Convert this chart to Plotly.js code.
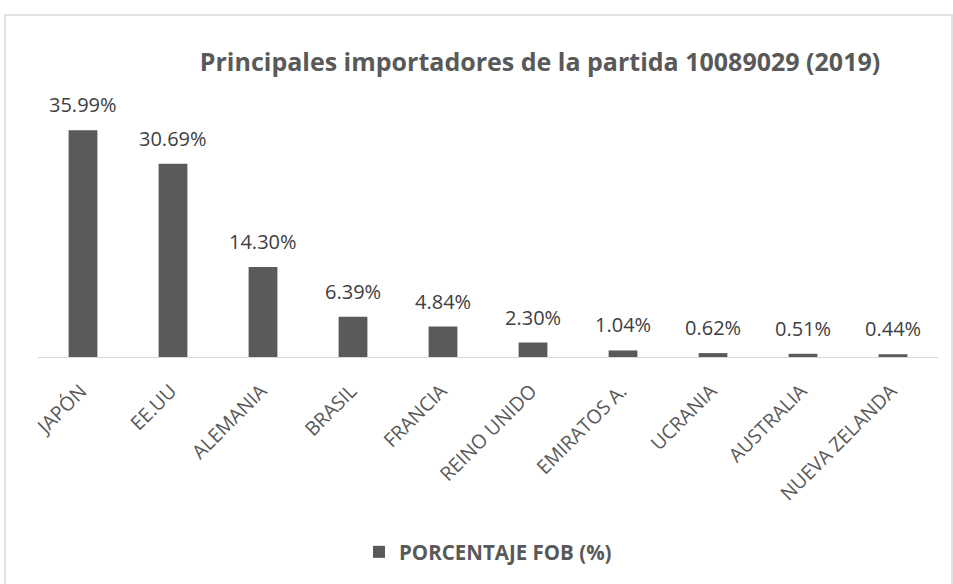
<!DOCTYPE html>
<html><head><meta charset="utf-8">
<script src="https://cdn.plot.ly/plotly-3.0.1.min.js"></script>
<style>html,body{margin:0;padding:0;background:#fff}#c{width:953px;height:584px}</style>
</head><body><div id="c"></div>
<script>
const categories = ["JAPÓN","EE.UU","ALEMANIA","BRASIL","FRANCIA","REINO UNIDO","EMIRATOS A.","UCRANIA","AUSTRALIA","NUEVA ZELANDA"];
const values = [35.99, 30.69, 14.30, 6.39, 4.84, 2.30, 1.04, 0.62, 0.51, 0.44];
const labels = values.map(v => v.toFixed(2) + "%");
const seriesName = "PORCENTAJE FOB (%)";
const titleText = "Principales importadores de la partida 10089029 (2019)";

const L = 38, R = 15, T = 105, B = 227, W = 953, H = 584;
const pw = W - L - R, ph = H - T - B;
const px = x => (x - L) / pw, py = y => (H - B - y) / ph;

const annotations = categories.map((c, i) => ({
  x: c, y: values[i], xref: 'x', yref: 'y', text: labels[i], showarrow: false,
  yanchor: 'bottom', yshift: 10,
  font: {family: 'Open Sans', size: 20, color: '#404040'}
}));

Plotly.newPlot('c', [{
  type: 'bar', x: categories, y: values, name: seriesName,
  marker: {color: '#5a5a5a'},
  hoverinfo: 'none'
}], {
  width: W, height: H,
  margin: {l: L, r: R, t: T, b: B, pad: 0},
  paper_bgcolor: '#fff', plot_bgcolor: '#fff',
  bargap: 0.68,
  title: {text: '<b>' + titleText + '</b>', x: 540 / W, xanchor: 'center', y: 1 - 62 / H, yanchor: 'middle',
          font: {family: 'Open Sans', size: 25, color: '#595959'}},
  xaxis: {tickangle: -45, showline: true, linecolor: '#d9d9d9', linewidth: 1, ticks: '',
          ticklabelshift: -2, ticklabelstandoff: 14,
          tickfont: {family: 'Open Sans', size: 19.5, color: '#595959'}, showgrid: false, fixedrange: true},
  yaxis: {range: [0, 40], visible: false, showgrid: false, zeroline: false, fixedrange: true},
  annotations: annotations,
  showlegend: true,
  legend: {orientation: 'h', x: px(488), xanchor: 'center', y: py(552), yanchor: 'middle',
           font: {family: 'Open Sans', size: 20.5, color: '#595959', weight: 'bold'}},
  shapes: [{type: 'rect', xref: 'paper', yref: 'paper', x0: px(5), x1: px(952), y0: py(590), y1: py(15),
            line: {color: '#d9d9d9', width: 1.5}, fillcolor: 'rgba(0,0,0,0)', layer: 'below'}]
}, {displayModeBar: false, staticPlot: true});
</script></body></html>
